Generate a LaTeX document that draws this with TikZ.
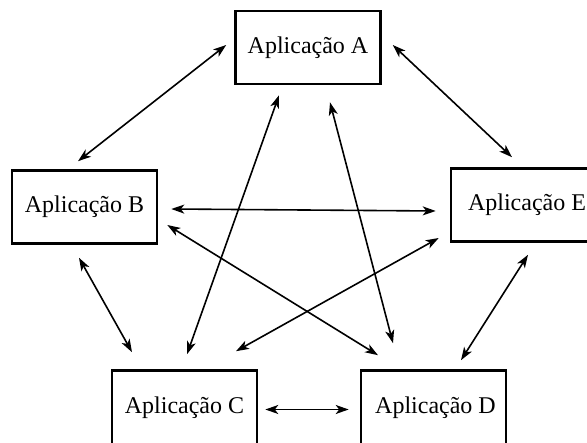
\documentclass[tikz,border=0pt]{standalone}
\usepackage{fontspec}
\setmainfont{Liberation Serif}
\usetikzlibrary{arrows.meta,calc}
\begin{document}
\begin{tikzpicture}[x=1pt,y=-1pt,
  appbox/.style={draw,line width=2.6pt,minimum width=145pt,minimum height=73pt,inner sep=0pt,font=\fontsize{24}{28}\selectfont},
  link/.style={line width=1.6pt,{Stealth[length=13pt,width=9pt,inset=3.5pt]}-{Stealth[length=13pt,width=9pt,inset=3.5pt]}}]
\useasboundingbox (0,0) rectangle (587,443);
\node[appbox] (A) at (308,47.5) {Aplicação A};
\node[appbox] (B) at (84.5,207) {Aplicação B};
\node[appbox,minimum width=152pt] (E) at (527,205) {Aplicação E};
\node[appbox,minimum height=74pt] (C) at (184.5,407.5) {\raisebox{-3pt}{Aplicação C}};
\node[appbox,minimum height=74pt] (D) at (433.5,407.5) {\hspace{4pt}Aplicação D};
\draw[link] ($(A.west)+(-8,-2.5)$) -- ($(B.north)+(-6.5,-8)$);
\draw[link] ($(A.east)+(11,-2.5)$) -- ($(E.north)+(-15,-10)$);
\draw[link] ($(A.south)+(-29,10)$) -- ($(C.north)+(2.5,-15)$);
\draw[link] ($(A.south)+(22,17)$) -- ($(D.north)+(-40.5,-26)$);
\draw[link] ($(B.east)+(13,2)$) -- ($(E.west)+(-14,6)$);
\draw[link] ($(B.east)+(9,18)$) -- ($(D.north)+(-55.5,-14)$);
\draw[link] ($(E.west)+(-11,33)$) -- ($(C.north)+(51.5,-18)$);
\draw[link] ($(B.south)+(-5.5,13)$) -- ($(C.north)+(-52.5,-17)$);
\draw[link] ($(E.south)+(1,12)$) -- ($(D.north)+(27.5,-9)$);
\draw[link] ($(C.east)+(7,2)$) -- ($(D.west)+(-11,2)$);
\end{tikzpicture}
\end{document}
